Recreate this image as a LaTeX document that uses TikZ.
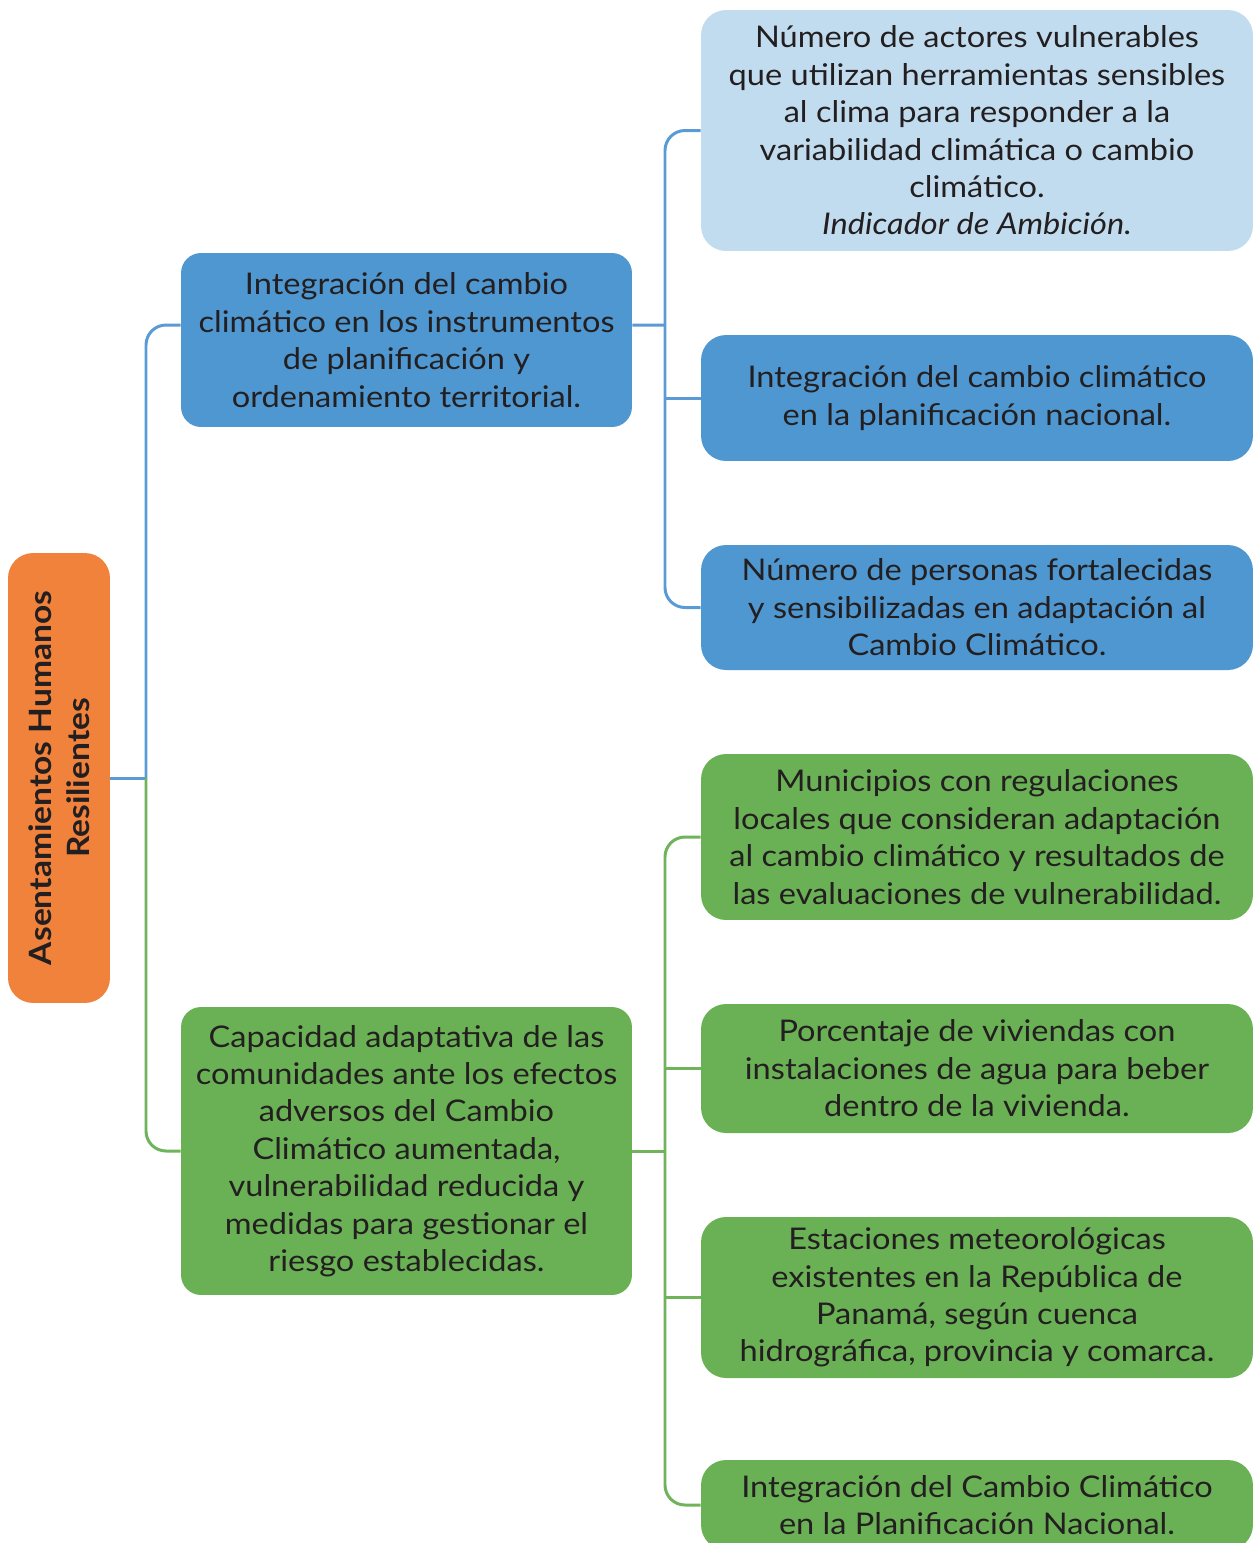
\documentclass[tikz,border=0pt]{standalone}
\usepackage{fontspec}
\setmainfont{Lato}[FakeStretch=1.09]
\usetikzlibrary{positioning,calc}

\definecolor{orangebox}{HTML}{F0823B}
\definecolor{bluebox}{HTML}{4F97D1}
\definecolor{lightbox}{HTML}{C2DCEF}
\definecolor{greenbox}{HTML}{6AB155}
\definecolor{blueline}{HTML}{5A9BD5}
\definecolor{greenline}{HTML}{6FB35A}
\definecolor{txt}{HTML}{231F20}

\begin{document}
\begin{tikzpicture}[
  x=0.02cm, y=-0.02cm,
  font=\fontsize{17}{21.3}\selectfont,
  text=txt,
  root/.style={fill=orangebox, rounded corners=0.5cm, minimum width=9cm, minimum height=2.04cm,
               rotate=90, align=center, inner sep=0pt, font=\fontsize{17.5}{21.6}\selectfont\bfseries},
  mid/.style={rounded corners=0.4cm, minimum width=9.02cm, align=center, inner sep=0pt},
  leaf/.style={rounded corners=0.5cm, minimum width=11.04cm, align=center, inner sep=0pt},
  bconn/.style={draw=blueline, line width=1.7pt},
  gconn/.style={draw=greenline, line width=1.7pt}
]
\useasboundingbox (0,0) rectangle (1253,1543);

% Root
\node[root] (root) at (59,778) {Asentamientos Humanos\\ Resilientes};

% Second level
\node[mid, fill=bluebox, minimum height=3.48cm] (intg) at (406.5,340)
  {Integración del cambio\\ climático en los instrumentos\\ de planificación y\\ ordenamiento territorial.};
\node[mid, fill=greenbox, minimum height=5.76cm] (capa) at (406.5,1151)
  {Capacidad adaptativa de las\\ comunidades ante los efectos\\ adversos del Cambio\\ Climático aumentada,\\ vulnerabilidad reducida y\\ medidas para gestionar el\\ riesgo establecidas.};

% Indicators (blue)
\node[leaf, fill=lightbox, minimum height=4.82cm] (r1) at (977,130.5)
  {Número de actores vulnerables\\ que utilizan herramientas sensibles\\ al clima para responder a la\\ variabilidad climática o cambio\\ climático.\\ \textit{Indicador de Ambición.}};
\node[leaf, fill=bluebox, minimum height=2.52cm] (r2) at (977,398)
  {Integración del cambio climático\\ en la planificación nacional.};
\node[leaf, fill=bluebox, minimum height=2.5cm] (r3) at (977,607.5)
  {Número de personas fortalecidas\\ y sensibilizadas en adaptación al\\ Cambio Climático.};

% Indicators (green)
\node[leaf, fill=greenbox, minimum height=3.32cm] (g1) at (977,837)
  {Municipios con regulaciones\\ locales que consideran adaptación\\ al cambio climático y resultados de\\ las evaluaciones de vulnerabilidad.};
\node[leaf, fill=greenbox, minimum height=2.58cm] (g2) at (977,1068.5)
  {Porcentaje de viviendas con\\ instalaciones de agua para beber\\ dentro de la vivienda.};
\node[leaf, fill=greenbox, minimum height=3.22cm] (g3) at (977,1297.5)
  {Estaciones meteorológicas\\ existentes en la República de\\ Panamá, según cuenca\\ hidrográfica, provincia y comarca.};
\node[leaf, fill=greenbox, minimum height=1.8cm] (g4) at (977,1505)
  {Integración del Cambio Climático\\ en la Planificación Nacional.};

% Junctions
\coordinate (rj) at (146,778);
\coordinate (bj) at (665,325);
\coordinate (gj) at (665,1151);

% Connectors
\draw[bconn] (root.south) -- (rj);
\draw[bconn, rounded corners=0.4cm] (rj) |- ([yshift=0.3cm]intg.west);
\draw[gconn, rounded corners=0.4cm] (rj) |- (capa.west);

\draw[bconn] ([yshift=0.3cm]intg.east) -- (bj);
\draw[bconn, rounded corners=0.4cm] (r1.west) -| (bj) |- (r3.west);
\draw[bconn] (r2.west) -- (r2.west -| bj);

\draw[gconn] (capa.east) -- (gj);
\draw[gconn, rounded corners=0.4cm] (g1.west) -| (gj) |- (g4.west);
\draw[gconn] (g2.west) -- (g2.west -| gj);
\draw[gconn] (g3.west) -- (g3.west -| gj);
\end{tikzpicture}
\end{document}
